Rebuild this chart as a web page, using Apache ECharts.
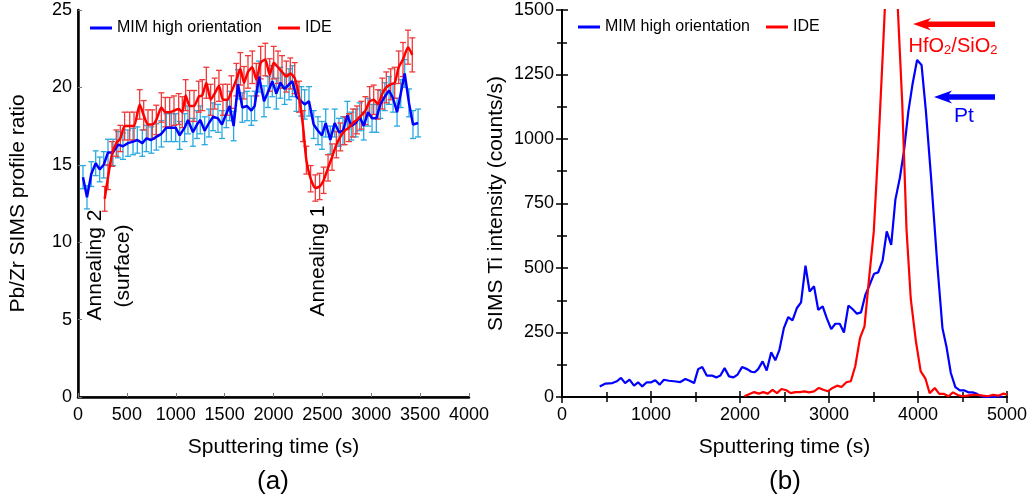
<!DOCTYPE html>
<html lang="en">
<head>
  <meta charset="utf-8">
  <script src="https://cdn.jsdelivr.net/npm/echarts@6.0.0/dist/echarts.min.js"></script>
</head>
<body style="margin:0">
  <div id="sims" style="width:1030px;height:501px;"></div>
  <script type="text/javascript">
    // (a) Pb/Zr ratio vs sputtering time, [time s, ratio]
    var mimRatio = [[51,14.2],[92,12.9],[136,14.4],[181,15.1],[222,14.7],[263,15.0],[307,15.8],[358,15.8],[409,16.3],[460,16.2],
      [511,16.4],[563,16.5],[607,16.6],[658,16.4],[699,16.7],[750,16.6],[801,16.8],[853,17.0],[904,17.4],[955,17.4],
      [999,17.4],[1040,16.9],[1091,17.4],[1125,17.9],[1176,17.1],[1217,17.6],[1251,17.9],[1296,17.2],[1340,17.7],[1381,18.1],
      [1432,18.0],[1473,17.6],[1517,18.3],[1552,18.8],[1592,17.5],[1637,20.2],[1681,18.7],[1729,18.8],[1773,18.5],[1807,18.8],
      [1852,20.7],[1903,19.1],[1944,19.7],[1988,20.4],[2029,19.6],[2070,20.3],[2114,19.9],[2159,20.2],[2193,20.4],[2234,19.4],
      [2285,19.1],[2319,18.9],[2363,19.1],[2411,17.6],[2455,17.2],[2496,16.9],[2534,17.7],[2581,16.6],[2626,17.7],[2670,17.1],
      [2711,17.2],[2756,18.2],[2796,17.5],[2841,17.7],[2882,18.1],[2923,17.5],[2967,18.4],[3008,18.0],[3052,18.0],[3093,18.9],
      [3138,19.4],[3182,19.8],[3223,19.3],[3264,18.4],[3302,19.6],[3342,20.9],[3386,19.0],[3427,17.6],[3479,17.7]];
    var mimErr = [0.75,0.75,0.8,0.8,0.8,0.85,0.85,0.85,0.85,0.85,
      0.85,0.85,0.85,0.85,0.85,0.85,0.85,0.85,0.9,0.9,
      0.9,0.9,0.9,0.9,0.9,0.9,0.9,0.9,0.9,0.9,
      0.9,0.9,0.9,0.95,0.95,0.95,0.95,0.95,0.95,0.95,
      1.0,1.0,1.0,1.0,1.0,1.0,1.0,1.0,1.0,0.95,
      0.95,0.95,0.95,0.9,0.9,0.9,0.9,0.9,0.9,0.9,
      0.9,0.9,0.9,0.9,0.9,0.9,0.9,0.9,0.9,0.9,
      0.9,0.9,0.9,0.9,0.9,0.9,0.9,0.9,0.9];
    var ideRatio = [[273,12.8],[307,14.2],[348,15.7],[392,16.4],[433,16.7],[477,17.5],[529,17.5],[573,17.5],[631,18.9],[672,18.2],
      [716,17.6],[760,17.6],[801,17.9],[853,18.7],[893,18.4],[938,18.4],[982,18.5],[1030,18.6],[1067,18.4],[1101,19.5],
      [1142,18.8],[1187,18.8],[1235,19.4],[1272,19.5],[1313,20.3],[1357,19.2],[1398,19.6],[1442,20.1],[1483,19.2],[1528,19.2],
      [1569,19.7],[1620,20.5],[1661,21.2],[1698,20.3],[1739,21.0],[1783,21.3],[1824,20.5],[1869,21.6],[1916,21.8],[1961,20.8],
      [2002,21.6],[2046,21.3],[2087,21.0],[2131,20.7],[2172,20.9],[2217,20.6],[2261,19.4],[2302,17.5],[2336,15.3],[2380,14.1],
      [2428,13.5],[2472,13.6],[2513,14.0],[2558,14.8],[2599,15.5],[2643,16.3],[2684,16.8],[2728,17.2],[2772,17.4],[2813,17.7],
      [2854,17.9],[2899,18.2],[2940,18.5],[2984,19.1],[3025,19.2],[3069,18.9],[3113,19.6],[3154,20.0],[3199,20.2],[3240,20.3],
      [3281,21.3],[3325,21.8],[3376,22.6],[3420,22.1]];
    var ideErr = [0.8,0.8,0.8,0.85,0.85,0.9,0.9,0.9,0.95,0.95,
      0.95,0.95,0.95,0.95,0.95,0.95,0.95,1.0,1.0,1.0,
      1.0,1.0,1.0,1.0,1.0,1.0,1.0,1.0,1.0,1.0,
      1.05,1.05,1.05,1.05,1.05,1.05,1.05,1.05,1.05,1.05,
      1.05,1.05,1.05,1.0,1.0,1.0,1.0,1.0,0.9,0.85,
      0.85,0.85,0.85,0.85,0.85,0.85,0.9,0.9,0.9,0.9,
      0.9,0.9,0.9,0.95,0.95,0.95,1.0,1.0,1.0,1.0,
      1.05,1.1,1.1,1.1];

    // (b) Ti intensity vs sputtering time, [time s, counts/s]
    var mimTi = [[424,41],[489,52],[566,54],[617,61],[663,74],[709,54],[759,67],[809,44],[855,57],[902,41],
      [952,57],[1002,57],[1048,65],[1098,48],[1145,67],[1202,63],[1260,61],[1329,58],[1387,70],[1434,63],
      [1484,54],[1530,108],[1576,116],[1626,83],[1684,83],[1734,76],[1780,83],[1827,112],[1877,80],[1927,76],
      [1973,87],[2023,116],[2081,108],[2127,98],[2166,96],[2204,108],[2254,138],[2300,103],[2351,173],[2397,142],
      [2443,183],[2493,267],[2543,310],[2590,297],[2640,345],[2686,367],[2736,509],[2782,409],[2832,429],[2879,338],
      [2929,351],[2975,306],[3025,263],[3071,284],[3121,284],[3168,250],[3218,354],[3264,341],[3314,323],[3360,328],
      [3410,397],[3457,435],[3507,478],[3553,483],[3603,530],[3649,642],[3699,590],[3746,765],[3796,849],[3842,952],
      [3892,1107],[3938,1211],[3990,1306],[4040,1287],[4088,1112],[4145,860],[4219,505],[4275,267],[4320,195],[4369,93],
      [4420,38],[4470,26],[4516,26],[4566,18],[4613,18],[4663,12],[4709,3],[4759,0],[4805,0],[4856,0],
      [4902,3],[4952,0]];
    var ideTi = [[2050,3],[2108,12],[2158,19],[2212,13],[2262,19],[2312,13],[2366,28],[2416,15],[2466,31],[2520,26],
      [2570,15],[2620,19],[2674,19],[2724,22],[2775,18],[2832,22],[2886,35],[2936,28],[2987,22],[3040,35],
      [3091,44],[3141,39],[3195,57],[3245,61],[3295,119],[3349,229],[3399,274],[3449,455],[3503,640],[3553,960],
      [3603,1320],[3660,1750],[3720,1900],[3823,1140],[3871,650],[3919,380],[3977,215],[4030,100],[4085,70],[4131,15],
      [4189,35],[4239,12],[4293,12],[4343,3],[4393,18],[4447,8],[4497,3],[4555,5],[4613,8],[4671,8],
      [4728,5],[4786,3],[4843,8],[4902,5],[4960,13],[5000,9]];

    var FONT = '"Liberation Sans", Arial, sans-serif';
    var chart = echarts.init(document.getElementById('sims'));

    function errorBars(data, errs, color) {
      return {
        type: 'custom',
        xAxisIndex: 0,
        yAxisIndex: 0,
        silent: true,
        data: data.map(function (p, i) { return [p[0], p[1] - errs[i], p[1] + errs[i]]; }),
        encode: { x: 0, y: [1, 2] },
        renderItem: function (params, api) {
          var lo = api.coord([api.value(0), api.value(1)]);
          var hi = api.coord([api.value(0), api.value(2)]);
          var w = 3;
          var st = { stroke: color, lineWidth: 1.3 };
          return {
            type: 'group',
            children: [
              { type: 'line', shape: { x1: lo[0], y1: lo[1], x2: hi[0], y2: hi[1] }, style: st },
              { type: 'line', shape: { x1: lo[0] - w, y1: lo[1], x2: lo[0] + w, y2: lo[1] }, style: st },
              { type: 'line', shape: { x1: hi[0] - w, y1: hi[1], x2: hi[0] + w, y2: hi[1] }, style: st }
            ]
          };
        }
      };
    }

    function tickLabel(size, margin) {
      return { color: '#000', fontSize: size, fontFamily: FONT, margin: margin,
        formatter: function (v) { return String(v); } };
    }
    var nameStyle = { color: '#000', fontSize: 21, fontFamily: FONT };
    var grayLine = { lineStyle: { color: '#555', width: 2 } };
    var blackLine = { lineStyle: { color: '#000', width: 2 } };
    var legendText = { color: '#000', fontSize: 16, fontFamily: FONT };

    var option = {
      animation: false,
      grid: [
        { left: 78, top: 10, width: 391, height: 387 },
        { left: 562, top: 10, width: 446, height: 387 }
      ],
      legend: [
        {
          left: 90, top: 20, padding: 0, icon: 'rect', itemWidth: 22, itemHeight: 3, itemGap: 16,
          data: ['MIM high orientation', 'IDE'], textStyle: legendText
        },
        {
          left: 578, top: 19, padding: 0, icon: 'rect', itemWidth: 22, itemHeight: 3, itemGap: 16,
          data: ['MIM high orientation', 'IDE'], textStyle: legendText
        }
      ],
      xAxis: [
        {
          gridIndex: 0, type: 'value', min: 0, max: 4000, interval: 500,
          name: 'Sputtering time (s)', nameLocation: 'middle', nameGap: 40, nameTextStyle: nameStyle,
          axisLine: grayLine, axisTick: { inside: true, length: 4, lineStyle: { color: '#777' } },
          axisLabel: tickLabel(18, 9), splitLine: { show: false }
        },
        {
          gridIndex: 0, type: 'value', position: 'top', min: 0, max: 4000,
          axisLine: { lineStyle: { color: '#000', width: 2.5 } }, axisTick: { show: false },
          axisLabel: { show: false }, splitLine: { show: false }
        },
        {
          gridIndex: 1, type: 'value', min: 0, max: 5000, interval: 1000,
          name: 'Sputtering time (s)', nameLocation: 'middle', nameGap: 40, nameTextStyle: nameStyle,
          axisLine: blackLine, axisTick: { inside: true, length: 6, lineStyle: { color: '#000', width: 1.5 } },
          minorTick: { show: true, splitNumber: 2, length: 5, lineStyle: { color: '#000', width: 1.5 } },
          axisLabel: tickLabel(18, 9), splitLine: { show: false }
        },
        {
          gridIndex: 1, type: 'value', position: 'top', min: 0, max: 5000, interval: 1000,
          axisLine: blackLine, axisTick: { inside: true, length: 6, lineStyle: { color: '#000', width: 1.5 } },
          minorTick: { show: true, splitNumber: 2, length: 5, lineStyle: { color: '#000', width: 1.5 } },
          axisLabel: { show: false }, splitLine: { show: false }
        }
      ],
      yAxis: [
        {
          gridIndex: 0, type: 'value', min: 0, max: 25, interval: 5,
          name: 'Pb/Zr SIMS profile ratio', nameLocation: 'middle', nameGap: 49, nameTextStyle: nameStyle,
          axisLine: grayLine, axisTick: { inside: true, length: 4, lineStyle: { color: '#777' } },
          axisLabel: tickLabel(18, 6), splitLine: { show: false }
        },
        {
          gridIndex: 0, type: 'value', position: 'right', min: 0, max: 25,
          axisLine: { lineStyle: { color: '#000', width: 2.5 } }, axisTick: { show: false },
          axisLabel: { show: false }, splitLine: { show: false }
        },
        {
          gridIndex: 1, type: 'value', min: 0, max: 1500, interval: 250,
          name: 'SIMS Ti intensity (counts/s)', nameLocation: 'middle', nameGap: 55, nameTextStyle: nameStyle,
          axisLine: blackLine, axisTick: { inside: true, length: 6, lineStyle: { color: '#000', width: 1.5 } },
          minorTick: { show: true, splitNumber: 2, length: 5, lineStyle: { color: '#000', width: 1.5 } },
          axisLabel: tickLabel(18, 8), splitLine: { show: false }
        },
        {
          gridIndex: 1, type: 'value', position: 'right', min: 0, max: 1500, interval: 250,
          axisLine: blackLine, axisTick: { inside: true, length: 6, lineStyle: { color: '#000', width: 1.5 } },
          minorTick: { show: true, splitNumber: 2, length: 5, lineStyle: { color: '#000', width: 1.5 } },
          axisLabel: { show: false }, splitLine: { show: false }
        }
      ],
      series: [
        errorBars(mimRatio, mimErr, '#2aa9e0'),
        errorBars(ideRatio, ideErr, '#ee3a3a'),
        {
          name: 'MIM high orientation', type: 'line', xAxisIndex: 0, yAxisIndex: 0,
          data: mimRatio, symbol: 'none', lineStyle: { color: '#0000ff', width: 2.5 }, itemStyle: { color: '#0000ff' }
        },
        {
          name: 'IDE', type: 'line', xAxisIndex: 0, yAxisIndex: 0, smooth: 0.2,
          data: ideRatio, symbol: 'none', lineStyle: { color: '#ff0000', width: 2.5 }, itemStyle: { color: '#ff0000' }
        },
        {
          name: 'MIM high orientation', type: 'line', xAxisIndex: 2, yAxisIndex: 2,
          data: mimTi, symbol: 'none', lineStyle: { color: '#0000ff', width: 2.2 }, itemStyle: { color: '#0000ff' }
        },
        {
          name: 'IDE', type: 'line', xAxisIndex: 2, yAxisIndex: 2,
          data: ideTi, symbol: 'none', lineStyle: { color: '#ff0000', width: 2.2 }, itemStyle: { color: '#ff0000' }
        }
      ],
      graphic: [
        { type: 'text', x: 95, y: 265, rotation: Math.PI / 2,
          style: { text: 'Annealing 2', fontSize: 21, fontFamily: FONT, fill: '#000', align: 'center', verticalAlign: 'middle' } },
        { type: 'text', x: 123, y: 266, rotation: Math.PI / 2,
          style: { text: '(surface)', fontSize: 21, fontFamily: FONT, fill: '#000', align: 'center', verticalAlign: 'middle' } },
        { type: 'text', x: 318, y: 261, rotation: Math.PI / 2,
          style: { text: 'Annealing 1', fontSize: 21, fontFamily: FONT, fill: '#000', align: 'center', verticalAlign: 'middle' } },
        { type: 'text', x: 273, y: 482,
          style: { text: '(a)', fontSize: 26, fontFamily: FONT, fill: '#000', align: 'center', verticalAlign: 'middle' } },
        { type: 'text', x: 785, y: 482,
          style: { text: '(b)', fontSize: 26, fontFamily: FONT, fill: '#000', align: 'center', verticalAlign: 'middle' } },
        { type: 'polygon', shape: { points: [[913, 24], [931, 18], [928, 21.5], [995, 21.5], [995, 27], [928, 27], [931, 30.5]] },
          style: { fill: '#ff0000' } },
        { type: 'polygon', shape: { points: [[934, 97], [952, 90.5], [949, 94.3], [995, 94.3], [995, 99.8], [949, 99.8], [952, 103.5]] },
          style: { fill: '#0000ff' } },
        { type: 'text', x: 953, y: 46,
          style: {
            text: '{n|HfO}{s|2}{n|/SiO}{s|2}', align: 'center', verticalAlign: 'middle',
            rich: {
              n: { fontSize: 20, fontFamily: FONT, fill: '#ff0000' },
              s: { fontSize: 13, fontFamily: FONT, fill: '#ff0000', padding: [9, 0, 0, 0] }
            }
          } },
        { type: 'text', x: 964, y: 116,
          style: { text: 'Pt', fontSize: 21, fontFamily: FONT, fill: '#0000ff', align: 'center', verticalAlign: 'middle' } }
      ]
    };

    chart.setOption(option);
  </script>
</body>
</html>
